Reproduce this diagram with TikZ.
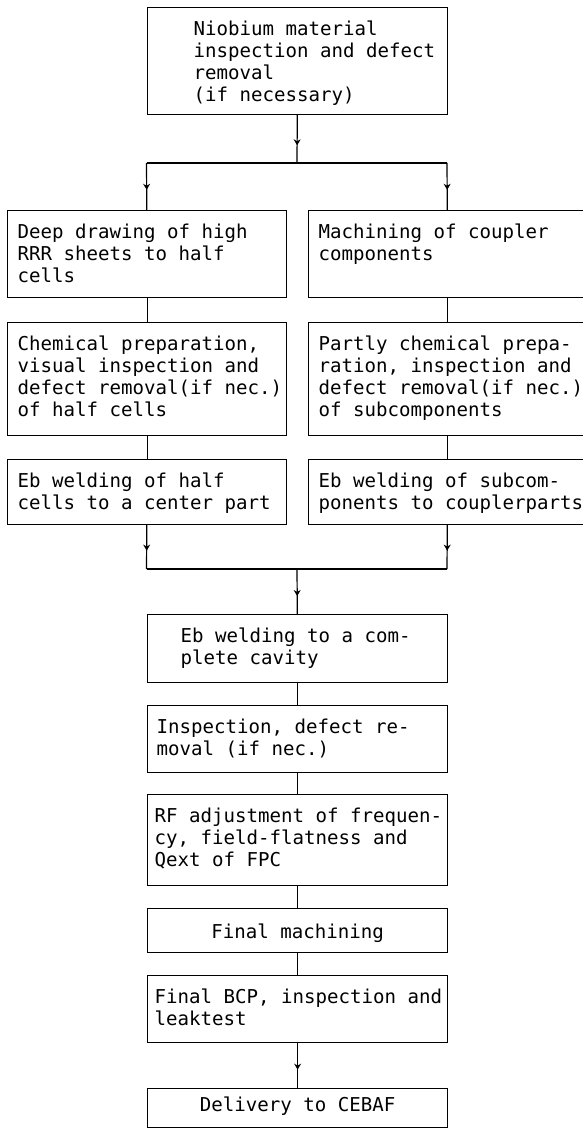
\documentclass[tikz,border=0pt]{standalone}
\usepackage{fontspec}
\newfontfamily\monofam{DejaVu Sans Mono}
\usetikzlibrary{arrows.meta,decorations.markings}

\tikzset{
  stepbox/.style={draw, line width=1.2pt, inner sep=0pt, anchor=north west},
  link/.style={line width=1.2pt},
  flow/.style={link, postaction={decorate},
    decoration={markings, mark=at position #1 with {\arrow{Stealth[length=6pt,width=7pt]}}}},
}

% box contents: width, height, first baseline, alignment, text
\newcommand\boxtext[5]{%
  \parbox[c][#2][t]{#1}{\monofam\fontsize{19.1pt}{22pt}\selectfont
    \raggedright #4%
    \vspace*{\dimexpr #3-\ht\strutbox\relax}\strut #5}}

\begin{document}
\begin{tikzpicture}[x=1pt,y=1pt]
\useasboundingbox (0,0) rectangle (583,-1132);

% starting material
\node[stepbox] (top) at (147,-7)
  {\boxtext{300pt}{107pt}{28pt}{\leftskip=46pt}{Niobium material\\inspection and defect\\removal\\(if necessary)}};

% left branch: cavity cells
\node[stepbox] (l1) at (7,-210)
  {\boxtext{279pt}{87pt}{28pt}{\leftskip=10pt}{Deep drawing of high\\RRR sheets to half\\cells}};
\node[stepbox] (l2) at (7,-322)
  {\boxtext{279pt}{113pt}{28pt}{\leftskip=10pt}{Chemical preparation,\\visual inspection and\\defect removal(if nec.)\\of half cells}};
\node[stepbox] (l3) at (7,-459)
  {\boxtext{279pt}{65pt}{28pt}{\leftskip=10pt}{Eb welding of half\\cells to a center part}};

% right branch: coupler parts
\node[stepbox] (r1) at (308,-210)
  {\boxtext{278pt}{87pt}{28pt}{\leftskip=10pt}{Machining of coupler\\components}};
\node[stepbox] (r2) at (308,-322)
  {\boxtext{278pt}{113pt}{28pt}{\leftskip=10pt}{Partly chemical prepa-\\ration, inspection and\\defect removal(if nec.)\\of subcomponents}};
\node[stepbox] (r3) at (308,-459)
  {\boxtext{278pt}{65pt}{28pt}{\leftskip=10pt}{Eb welding of subcom-\\ponents to couplerparts}};

% common chain
\node[stepbox] (c1) at (147,-614)
  {\boxtext{300pt}{68pt}{28pt}{\leftskip=33pt}{Eb welding to a com-\\plete cavity}};
\node[stepbox] (c2) at (147,-705)
  {\boxtext{300pt}{67pt}{28pt}{\leftskip=9pt}{Inspection, defect re-\\moval (if nec.)}};
\node[stepbox] (c3) at (147,-794)
  {\boxtext{300pt}{91pt}{28pt}{\leftskip=7pt}{RF adjustment of frequen-\\cy, field-flatness and\\Qext of FPC}};
\node[stepbox] (c4) at (147,-908)
  {\boxtext{300pt}{44pt}{30pt}{\centering}{Final machining}};
\node[stepbox] (c5) at (147,-975)
  {\boxtext{300pt}{67pt}{28pt}{\leftskip=7pt}{Final BCP, inspection and\\leaktest}};
\node[stepbox] (c6) at (147,-1088)
  {\boxtext{300pt}{39pt}{23pt}{\centering}{Delivery to CEBAF}};

% split and merge points
\coordinate (jt) at (297,-163);
\coordinate (jl) at (146.5,-163);
\coordinate (jr) at (447,-163);
\coordinate (bl) at (146.5,-569);
\coordinate (br) at (447,-569);
\coordinate (bm) at (297,-569);

% connectors
\draw[flow=0.63] (top) -- (jt);
\draw[link] (jl) -- (jr);
\draw[flow=0.57] (jl) -- (l1);
\draw[flow=0.57] (jr) -- (r1);
\draw[link] (l1) -- (l2);
\draw[link] (l2) -- (l3);
\draw[link] (r1) -- (r2);
\draw[link] (r2) -- (r3);
\draw[flow=0.58] (l3) -- (bl);
\draw[flow=0.58] (r3) -- (br);
\draw[link] (bl) -- (br);
\draw[flow=0.6] (bm) -- (c1);
\draw[link] (c1) -- (c2);
\draw[link] (c2) -- (c3);
\draw[link] (c3) -- (c4);
\draw[link] (c4) -- (c5);
\draw[flow=0.59] (c5) -- (c6);
\end{tikzpicture}
\end{document}
